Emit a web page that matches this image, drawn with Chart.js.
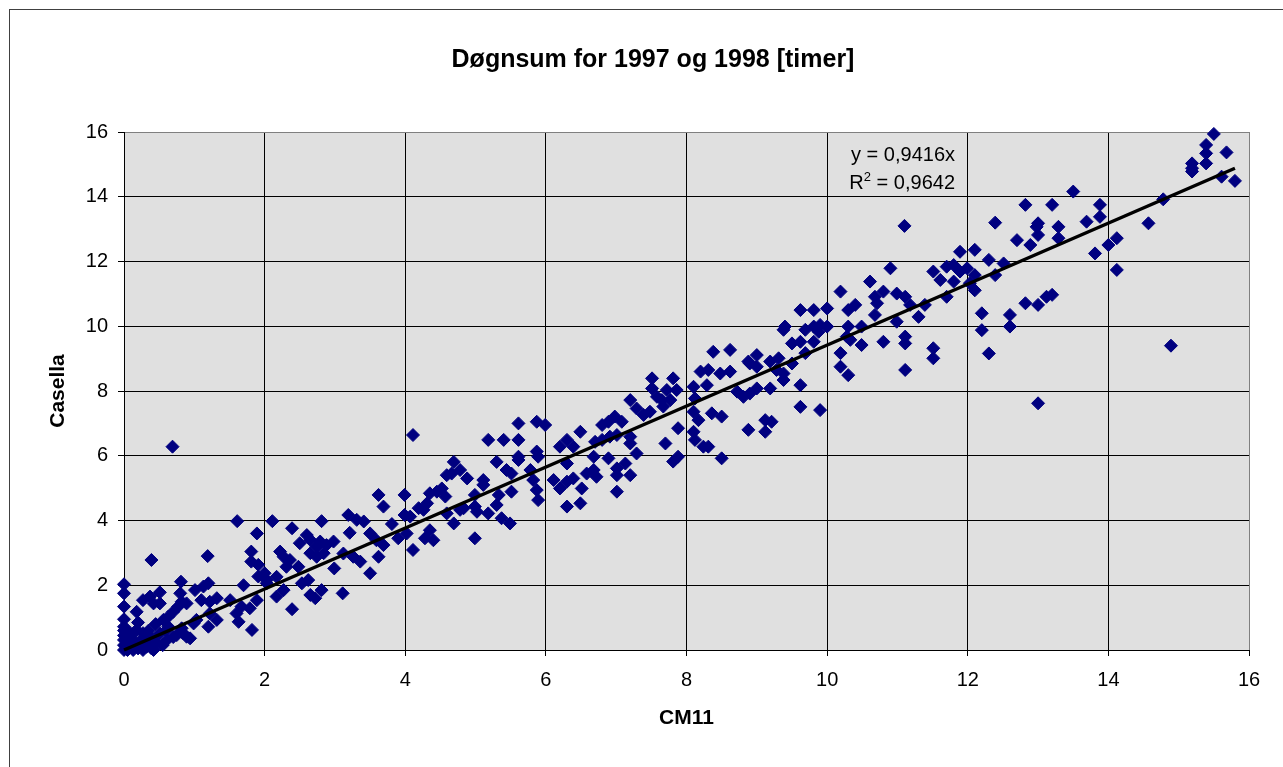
<!DOCTYPE html>
<html>
<head>
<meta charset="utf-8">
<title>Døgnsum for 1997 og 1998 [timer]</title>
<script src="https://cdn.jsdelivr.net/npm/chart.js@4.4.1/dist/chart.umd.min.js"></script>
<style>
  html, body { margin: 0; padding: 0; background: #fff; }
  #wrap { position: relative; width: 1283px; height: 767px; }
</style>
</head>
<body>
<div id="wrap"><canvas id="chart" width="1283" height="767"></canvas></div>
<script>
// daily sums, CM11 (x) vs Casella (y)
const cm11 = [
  0.69,1.61,2.11,2.39,1.89,0.39,1.19,1.81,1.81,1.91,
  0,0,0,0,0.81,0.51,0.37,0.27,0.42,0.18,
  0.51,1.01,1.13,1.20,1.10,1.22,1.32,0.80,0.82,0.89,
  0.77,0.70,0.63,0.56,1.70,1.51,1.60,1.63,1.82,1.79,
  1.89,1.67,2.39,2.03,2.17,2.22,2.27,2.36,2.31,2.48,
  2.50,2.60,2.65,2.74,2.65,2.74,2.53,2.62,2.65,2.72,
  1.91,2.00,2.03,2.27,2.17,1.22,1.32,1.20,0.99,0.84,
  0.94,0,0,0.09,0.18,0.27,0.37,0.09,0.23,0.32,
  0.42,0.13,0.51,0.61,0.75,0.89,0.63,0.82,1.03,0,
  0.05,0.27,0.39,0,0,0,0.10,0.15,0.25,0.30,
  0.45,0.35,0.05,0.20,0.55,0.60,0.70,0.45,0.20,0.12,
  2.81,2.79,2.88,2.98,2.84,2.99,2.81,3.11,3.19,3.31,
  3.41,3.21,3.12,3.26,3.36,3.50,3.50,3.59,3.69,3.62,
  3.81,3.90,4.02,3.62,3.69,3.99,3.99,4.11,4.11,4.19,
  4.31,4.35,4.45,4.52,4.57,4.59,4.66,4.69,4.78,4.88,
  4.28,4.40,4.35,4.07,4.26,4.59,4.69,4.78,4.83,4.99,
  4.99,5.02,4.99,5.11,5.11,5.18,5.30,5.33,5.30,5.37,
  5.49,5.51,5.44,5.51,5.61,5.61,5.61,5.61,5.18,5.40,
  5.87,5.99,5.87,5.89,5.78,5.82,5.87,5.89,6.11,6.20,
  6.30,6.39,6.20,6.30,6.39,6.30,6.49,6.51,6.30,6.49,
  6.58,6.68,6.72,6.68,6.70,6.80,6.89,6.98,7.08,6.80,
  6.91,7.01,7.20,7.20,7.29,6.89,7.01,7.13,7.01,7.20,
  7.01,7.20,7.29,7.39,7.48,7.51,7.51,7.58,7.65,7.72,
  7.81,7.86,7.67,7.77,7.88,7.70,7.81,7.88,8.10,8.12,
  8.10,8.17,8.10,8.12,8.24,8.31,8.36,8.50,8.50,8.20,
  8.31,8.29,8.38,8.62,8.62,8.48,8.72,8.88,9.00,9.00,
  8.90,8.81,8.90,9.00,9.19,8.88,9.12,9.12,9.21,9.19,
  9.31,9.28,9.38,9.38,9.50,9.62,9.62,9.90,9.40,9.38,
  9.50,9.62,9.69,9.62,9.81,10.00,9.69,9.81,9.90,9.88,
  10.00,9.81,10.19,10.19,10.19,10.30,10.30,10.40,10.30,10.28,
  10.33,10.49,10.49,10.61,10.68,10.71,10.68,10.80,10.80,10.90,
  10.99,10.99,11.11,11.11,11.11,11.11,11.18,11.30,11.39,11.51,
  11.51,11.51,11.61,11.70,11.70,11.80,11.80,11.89,11.89,11.99,
  12.03,11.10,12.10,12.10,12.10,12.30,12.39,12.51,12.39,12.82,
  13.20,13.50,12.70,12.89,12.98,13.00,13.00,13.29,13.29,13.69,
  13.88,13.88,13.81,14.00,14.12,14.12,14.57,12.20,12.20,12.30,
  12.60,12.60,12.82,13.00,13.12,13.20,13.00,14.78,14.89,15.19,
  15.19,15.19,15.39,15.39,15.39,15.50,15.68,15.61,15.80
];
const casella = [
  6.28,3.98,3.98,3.76,3.60,2.78,2.90,3.04,2.73,2.63,
  2.03,1.75,1.34,0.95,2.11,1.78,1.65,1.54,1.44,1.18,
  1.44,1.85,1.96,2.06,1.54,1.49,1.60,1.75,1.49,1.44,
  1.34,1.18,1.03,0.93,2.00,1.54,1.13,0.87,0.62,1.29,
  1.54,1.34,1.26,2.16,2.26,3.04,2.88,2.78,2.57,2.57,
  3.30,3.55,3.40,3.19,2.99,2.88,2.06,2.16,1.70,1.60,
  2.27,2.37,2.06,1.85,1.65,1.13,0.93,0.72,0.82,0.52,
  0.36,0.31,0,0.52,0.62,0.52,0.41,0.21,0.26,0.10,
  0,0,0.52,0.31,0.46,0.41,0.72,0.67,0.93,0.72,
  0,0,0.05,0.15,0.45,0.60,0.40,0.10,0.30,0.20,
  0.25,0.60,0.05,0.05,0.15,0.60,0.40,0.80,0.85,0.30,
  3.98,3.35,3.24,3.35,2.99,2.52,1.85,1.75,4.17,4.02,
  3.97,3.62,2.98,2.88,2.73,2.37,3.60,3.39,3.24,2.88,
  3.89,3.45,3.60,4.79,4.43,4.79,4.17,3.09,6.64,4.38,
  4.53,4.84,4.89,4.99,4.74,5.40,5.45,5.81,5.56,5.30,
  3.45,3.39,3.70,4.12,4.33,4.22,3.91,4.33,4.38,4.79,
  4.43,4.27,3.45,5.25,5.10,4.22,5.81,4.79,4.48,4.07,
  3.91,4.89,5.56,5.45,5.97,5.87,6.49,7.00,6.49,6.49,
  7.05,6.95,6.13,5.97,5.56,5.25,4.94,4.63,5.25,4.99,
  5.20,5.30,6.28,6.49,6.28,5.76,6.74,4.99,4.43,4.53,
  5.45,5.56,5.35,5.97,6.43,6.95,7.05,7.21,7.05,6.49,
  6.59,6.64,6.59,6.38,6.07,5.92,5.61,5.76,5.40,5.40,
  4.89,7.72,7.46,7.26,7.36,8.39,8.08,7.82,7.72,8.03,
  8.39,8.03,7.52,7.72,6.85,6.38,5.82,5.97,8.13,7.77,
  7.36,7.10,6.74,6.49,6.28,6.28,7.31,7.21,5.92,8.60,
  8.65,8.18,9.21,9.27,8.60,8.54,7.98,8.91,9.11,8.75,
  8.85,7.82,7.92,8.08,8.08,6.80,6.74,7.10,7.05,8.91,
  9.01,8.65,8.54,8.34,8.85,8.18,7.51,7.41,9.99,9.89,
  9.47,9.52,9.17,10.50,10.50,10.55,9.89,9.99,10.04,9.83,
  9.99,9.52,11.07,9.17,8.75,8.49,10.50,10.66,9.99,9.68,
  9.58,9.99,9.42,11.38,10.91,10.71,10.35,11.07,9.52,11.79,
  11.01,10.14,10.91,9.68,9.47,8.65,10.66,10.29,10.66,9.32,
  9.01,11.69,11.43,11.84,10.91,11.89,11.38,11.69,12.30,11.79,
  11.33,13.10,12.36,11.58,11.11,12.05,11.58,11.94,13.20,13.75,
  13.75,14.16,12.66,12.51,13.07,12.82,13.18,13.07,12.72,13.23,
  13.75,13.38,12.25,12.51,12.72,11.74,13.18,10.40,9.88,9.16,
  10.35,9.99,10.71,10.66,10.91,10.97,7.62,13.92,9.40,15.03,
  14.88,14.78,15.60,15.34,15.03,15.94,15.37,14.62,14.49
];

// linear trend through origin, end points as drawn
const trendX = [0, 15.8];
const trendY = [0, 14.88];

const axisMin = 0;
const axisMax = 16;
const axisStep = 2;

const titleText = 'Døgnsum for 1997 og 1998 [timer]';
const xTitle = 'CM11';
const yTitle = 'Casella';
const eqText = 'y = 0,9416x';
const r2Text = ' = 0,9642';

const FONT = '"Liberation Sans", Arial, sans-serif';

const points = cm11.map((x, i) => ({ x: x, y: casella[i] }));
const trend = trendX.map((x, i) => ({ x: x, y: trendY[i] }));

// grey plot background, outer frame, title and the trendline label
const decor = {
  id: 'decor',
  beforeDraw(chart) {
    const { ctx, chartArea: a } = chart;
    ctx.save();
    ctx.fillStyle = '#e0e0e0';
    ctx.fillRect(a.left, a.top, a.right - a.left, a.bottom - a.top);
    ctx.strokeStyle = '#404040';
    ctx.lineWidth = 1;
    ctx.strokeRect(9.5, 9.5, 1400, 900);
    ctx.fillStyle = '#000';
    ctx.font = 'bold 25px ' + FONT;
    ctx.textAlign = 'center';
    ctx.textBaseline = 'middle';
    ctx.fillText(titleText, 653, 60);
    ctx.restore();
  },
  afterDraw(chart) {
    const ctx = chart.ctx;
    const right = 955;
    ctx.save();
    ctx.fillStyle = '#000';
    ctx.textBaseline = 'alphabetic';
    ctx.textAlign = 'right';
    ctx.font = '20px ' + FONT;
    ctx.fillText(eqText, right, 161);
    // R² line, superscript by hand
    const restW = ctx.measureText(r2Text).width;
    ctx.fillText(r2Text, right, 189);
    ctx.font = '13px ' + FONT;
    const supW = ctx.measureText('2').width;
    ctx.fillText('2', right - restW, 181);
    ctx.font = '20px ' + FONT;
    ctx.fillText('R', right - restW - supW, 189);
    ctx.restore();
  }
};

const edgeGrey = (c) => c.tick && c.tick.value === axisMax ? '#808080' : '#000';

new Chart(document.getElementById('chart'), {
  type: 'scatter',
  data: {
    datasets: [
      {
        label: 'Lineær (trend)',
        data: trend,
        showLine: true,
        borderColor: '#000',
        borderWidth: 3.5,
        pointRadius: 0,
        clip: false
      },
      {
        label: 'Døgnsum',
        data: points,
        pointStyle: 'rectRot',
        pointRadius: 6.5,
        backgroundColor: '#000080',
        borderColor: '#000080',
        borderWidth: 1,
        clip: false
      }
    ]
  },
  options: {
    responsive: false,
    animation: false,
    devicePixelRatio: 1,
    layout: { padding: { top: 132, right: 34, bottom: 0, left: 0 } },
    plugins: {
      legend: { display: false },
      tooltip: { enabled: false },
      title: { display: false }
    },
    scales: {
      x: {
        type: 'linear',
        min: axisMin,
        max: axisMax,
        ticks: { stepSize: axisStep, color: '#000', padding: 12, font: { family: FONT, size: 20 } },
        grid: { color: edgeGrey, tickColor: '#000', tickLength: 6, lineWidth: 1 },
        border: { color: '#000', width: 1 },
        title: {
          display: true, text: xTitle, color: '#000',
          font: { family: FONT, size: 21, weight: 'bold' },
          padding: { top: 0, bottom: 36 }
        },
        afterFit(scale) { scale.height = 117; }
      },
      y: {
        type: 'linear',
        min: axisMin,
        max: axisMax,
        ticks: { stepSize: axisStep, color: '#000', padding: 10, font: { family: FONT, size: 20 } },
        grid: { color: edgeGrey, tickColor: '#000', tickLength: 6, lineWidth: 1 },
        border: { color: '#000', width: 1 },
        title: {
          display: true, text: yTitle, color: '#000',
          font: { family: FONT, size: 21, weight: 'bold' },
          padding: { top: 46, bottom: 0 }
        },
        afterFit(scale) { scale.width = 124; }
      }
    }
  },
  plugins: [decor]
});
</script>
</body>
</html>
